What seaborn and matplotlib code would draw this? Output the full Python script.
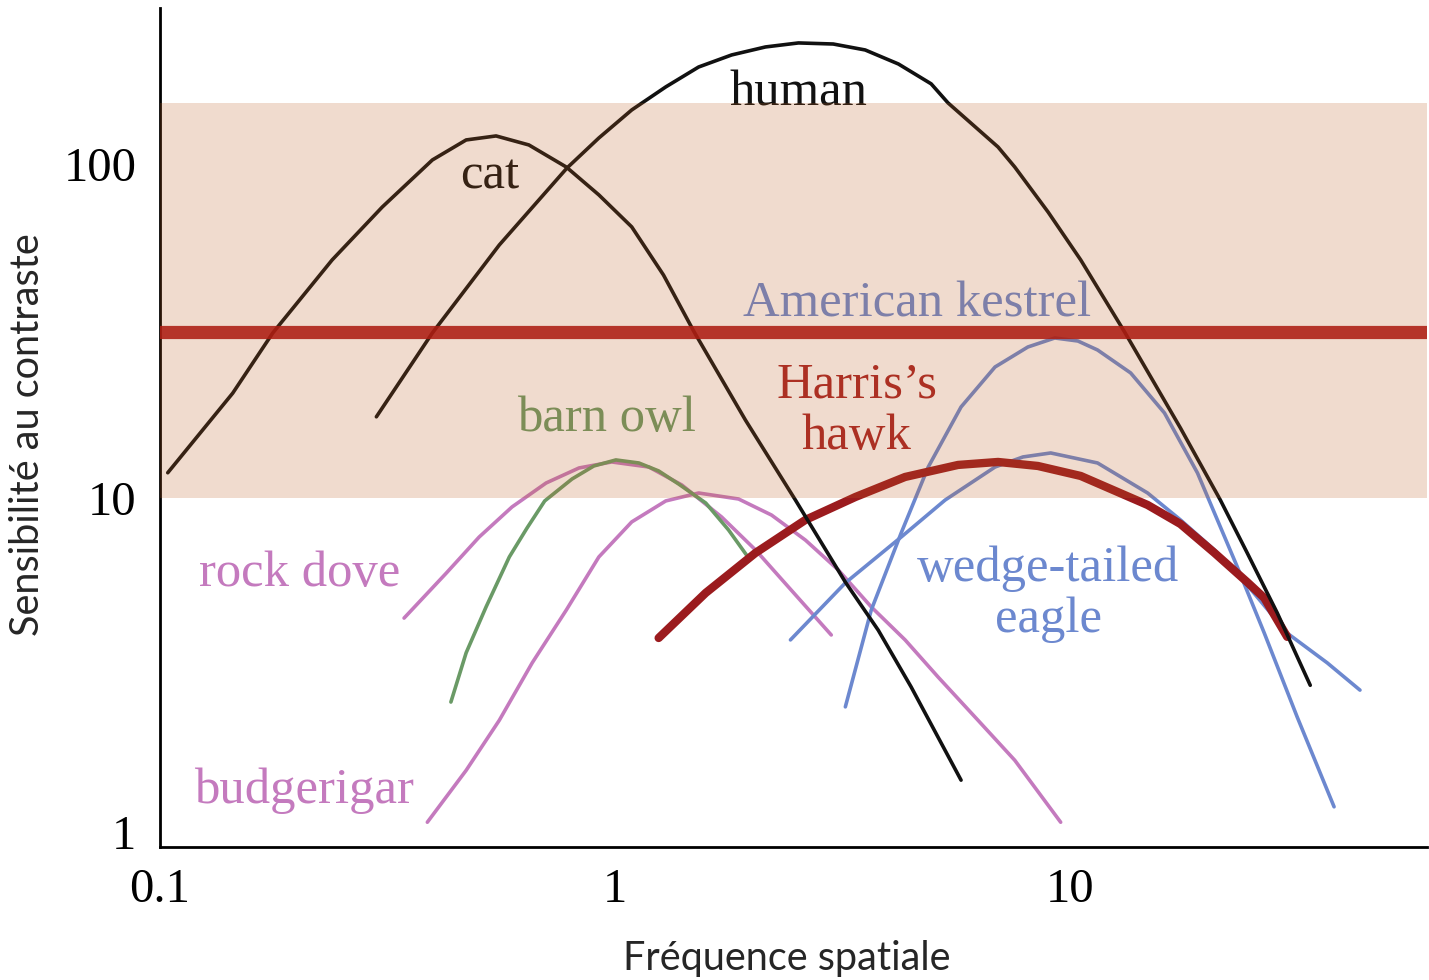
import numpy as np
import pandas as pd
import matplotlib
matplotlib.use("Agg")
import matplotlib.pyplot as plt
import matplotlib.ticker as mticker
import seaborn as sns

# ---------------- data (log-log axes) ----------------
cat_x = [0.104, 0.1445, 0.177, 0.239, 0.308, 0.397, 0.471, 0.548, 0.647, 0.782, 0.922, 1.089, 1.279, 1.49, 1.937, 2.494, 3.211, 3.793, 4.479, 5.768]
cat_y = [11.9, 20.6, 31.2, 51.6, 74.3, 102.8, 118.0, 121.3, 114.0, 97.9, 80.8, 64.8, 46.5, 31.6, 17.1, 9.86, 5.60, 4.02, 2.72, 1.43]

human_x = [0.299, 0.397, 0.557, 0.785, 0.922, 1.089, 1.294, 1.528, 1.806, 2.143, 2.533, 3.02, 3.550, 4.20, 4.958, 5.400, 6.955, 7.57, 8.96, 10.57, 13.20, 17.51, 21.43, 24.55, 28.58, 33.78]
human_y = [17.5, 31.2, 57.2, 97.3, 119.6, 145.1, 170.1, 195.1, 212.0, 224.0, 230.3, 228.6, 219.4, 199.2, 173.7, 152.3, 112.4, 97.9, 71.8, 51.6, 31.4, 16.2, 9.86, 6.85, 4.53, 2.75]

rockdove_x = [0.344, 0.426, 0.503, 0.594, 0.706, 0.834, 0.984, 1.188, 1.403, 1.717, 2.038, 2.409, 2.990]
rockdove_y = [4.37, 5.96, 7.64, 9.40, 11.09, 12.30, 12.82, 12.38, 10.94, 8.77, 6.99, 5.41, 3.89]

barnowl_x = [0.436, 0.471, 0.521, 0.586, 0.641, 0.701, 0.805, 0.899, 1.005, 1.129, 1.248, 1.381, 1.584, 1.778, 1.947]
barnowl_y = [2.45, 3.44, 4.72, 6.66, 8.13, 9.80, 11.40, 12.47, 13.00, 12.73, 12.05, 11.01, 9.66, 8.02, 6.75]

budgie_x = [0.387, 0.471, 0.557, 0.658, 0.782, 0.922, 1.089, 1.294, 1.528, 1.871, 2.210, 2.624, 3.098, 3.661, 4.345, 5.136, 6.286, 7.57, 9.55]
budgie_y = [1.07, 1.53, 2.16, 3.21, 4.62, 6.66, 8.48, 9.80, 10.35, 9.93, 8.89, 7.48, 6.09, 4.72, 3.76, 2.91, 2.16, 1.64, 1.07]

hawk_x = [1.248, 1.584, 2.038, 2.624, 3.379, 4.345, 5.681, 6.955, 8.51, 10.57, 14.83, 17.51, 20.80, 24.55, 26.77, 30.06]
hawk_y = [3.81, 5.20, 6.85, 8.60, 10.07, 11.56, 12.56, 12.82, 12.47, 11.64, 9.53, 8.36, 6.85, 5.60, 5.02, 3.84]

kestrel_x = [3.211, 3.661, 4.260, 4.885, 5.768, 6.850, 8.09, 9.27, 10.42, 11.51, 13.61, 16.15, 19.09, 23.35, 26.77, 31.62, 38.11]
kestrel_y = [2.37, 4.62, 7.86, 12.38, 18.73, 24.67, 28.32, 30.13, 29.51, 27.74, 23.68, 17.97, 11.88, 6.22, 3.94, 2.21, 1.19]

eagle_x = [2.432, 3.211, 4.260, 5.321, 6.850, 7.89, 9.08, 11.51, 14.83, 17.51, 20.80, 24.55, 30.06, 36.81, 43.45]
eagle_y = [3.76, 5.57, 7.64, 9.86, 12.38, 13.27, 13.64, 12.73, 10.35, 8.60, 6.99, 5.49, 3.94, 3.21, 2.66]

band_low, band_high = 10, 152
kestrel_level = 31.5

x_ticks = [0.1, 1, 10]
x_tick_labels = ["0.1", "1", "10"]
y_ticks = [1, 10, 100]
y_tick_labels = ["1", "10", "100"]

labels = ["human", "cat", "American kestrel", "Harris\u2019s\nhawk", "barn owl",
          "rock dove", "budgerigar", "wedge-tailed\neagle"]
label_x = [2.53, 0.53, 4.61, 3.40, 0.96, 0.203, 0.207, 8.96]
label_y = [163, 92, 38.0, 18.2, 17.3, 5.95, 1.33, 5.16]

# ---------------- style ----------------
sns.set_style("white")
plt.rcParams['font.family'] = ['Liberation Serif', 'DejaVu Serif']

PINK = "#c47abe"
GREEN = "#6a9a66"
BLUE = "#6c88cf"
HAWK = "#9b1b1e"
BLACK = "#111111"

fig = plt.figure(figsize=(14.29, 9.80), dpi=100)
ax = fig.add_axes([160/1429, 1 - 847/980, (1427 - 160)/1429, (847 - 8)/980])
ax.set_xscale("log")
ax.set_yscale("log")

def curve(xs, ys, color, lw, z=2):
    df = pd.DataFrame({"f": xs, "s": ys})
    sns.lineplot(data=df, x="f", y="s", ax=ax, color=color, linewidth=lw,
                 sort=False, estimator=None, zorder=z, solid_capstyle="round",
                 solid_joinstyle="round")

curve(rockdove_x, rockdove_y, PINK, 2.6)
curve(budgie_x, budgie_y, PINK, 2.6)
curve(barnowl_x, barnowl_y, GREEN, 2.6)
curve(kestrel_x, kestrel_y, BLUE, 2.6)
curve(eagle_x, eagle_y, BLUE, 2.6)
curve(hawk_x, hawk_y, HAWK, 6.0)
curve(cat_x, cat_y, BLACK, 2.6)
curve(human_x, human_y, BLACK, 2.6)

# translucent overlays
ax.axhspan(band_low, band_high, color="#bd5f22", alpha=0.22, lw=0, zorder=5)
ax.axhline(kestrel_level, color="#ad1d12", alpha=0.88, lw=9.5, zorder=6)

label_colors = [BLACK, BLACK, BLUE, "#a82424", GREEN, PINK, PINK, BLUE]
for t, lx, ly, c in zip(labels, label_x, label_y, label_colors):
    ax.text(lx, ly, t, color=c, fontsize=36.5, ha="center", va="center",
            zorder=3, linespacing=1.12)

ax.set_xlim(0.1, 61)
ax.set_ylim(0.902, 293)

ax.xaxis.set_major_locator(mticker.FixedLocator(x_ticks))
ax.xaxis.set_major_formatter(mticker.FixedFormatter(x_tick_labels))
ax.yaxis.set_major_locator(mticker.FixedLocator(y_ticks))
ax.yaxis.set_major_formatter(mticker.FixedFormatter(y_tick_labels))
ax.xaxis.set_minor_locator(mticker.LogLocator(base=10, subs=np.arange(2, 10)))
ax.yaxis.set_minor_locator(mticker.LogLocator(base=10, subs=np.arange(2, 10)))
ax.xaxis.set_minor_formatter(mticker.NullFormatter())
ax.yaxis.set_minor_formatter(mticker.NullFormatter())

ax.tick_params(which="major", direction="in", length=13, width=1.5, labelsize=35,
               color="black", labelcolor="black")
ax.tick_params(which="minor", direction="in", length=8, width=1.5, color="black")
ax.tick_params(axis="y", which="major", pad=17)
ax.tick_params(axis="x", which="major", pad=15)

for s in ["top", "right"]:
    ax.spines[s].set_visible(False)
for s in ["left", "bottom"]:
    ax.spines[s].set_linewidth(2.0)
    ax.spines[s].set_color("black")

ax.set_xlabel("")
ax.set_ylabel("")
fig.text(787/1429, 1 - 958/980, "Fréquence spatiale", ha="center", va="center",
         fontsize=28.5, family=["Lato", "DejaVu Sans"])
fig.text(28/1429, 1 - 435/980, "Sensibilité au contraste", ha="center", va="center",
         rotation=90, fontsize=28.5, family=["Lato", "DejaVu Sans"])

fig.savefig("out.png", dpi=100)
